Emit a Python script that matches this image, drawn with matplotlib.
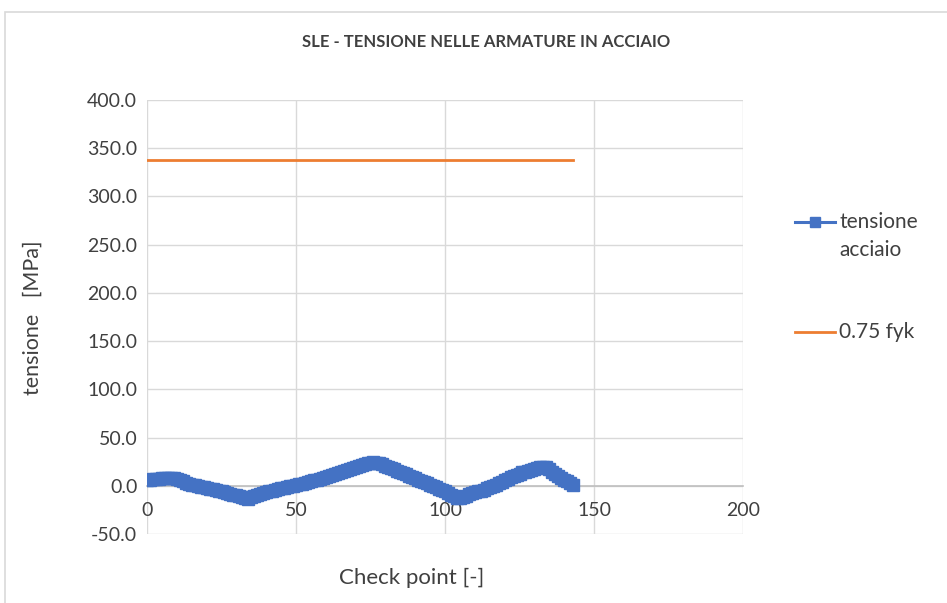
import matplotlib.pyplot as plt
from matplotlib.patches import Rectangle
from matplotlib.lines import Line2D

# check point index and steel stress [MPa]
check_points = list(range(144))
tensione_acciaio = [
    6.0, 6.3, 6.7, 7.0, 7.4, 7.8, 8.2, 8.5, 8.5, 8.2,
    7.5, 6.3, 4.5, 3.2, 2.0, 1.0, 0.3, -0.4, -1.0, -1.6,
    -2.2, -2.9, -3.6, -4.3, -5.1, -5.9, -6.7, -7.5, -8.3, -9.1,
    -9.9, -10.7, -11.6, -12.5, -13.2, -12.0, -10.8, -9.7, -8.6, -7.6,
    -6.7, -5.9, -5.1, -4.3, -3.5, -2.7, -2.0, -1.3, -0.6, 0.0,
    0.7, 1.4, 2.2, 3.0, 3.8, 4.6, 5.5, 6.4, 7.3, 8.2,
    9.1, 10.0, 11.0, 12.0, 13.0, 14.1, 15.2, 16.3, 17.5, 18.7,
    19.8, 20.9, 21.9, 22.8, 23.5, 24.0, 24.2, 24.0, 23.4, 22.3,
    21.0, 19.7, 18.4, 17.1, 15.8, 14.5, 13.1, 11.7, 10.3, 8.9,
    7.6, 6.4, 5.2, 4.0, 2.7, 1.3, -0.1, -1.5, -2.9, -4.3,
    -5.8, -7.4, -9.1, -11.0, -13.0, -12.3, -11.2, -10.1, -9.0, -7.9,
    -6.9, -5.9, -4.9, -3.9, -2.8, -1.6, -0.3, 1.1, 2.6, 4.1,
    5.6, 7.1, 8.6, 10.1, 11.5, 12.7, 13.8, 14.7, 15.5, 16.2,
    17.3, 18.4, 19.2, 19.4, 19.0, 17.5, 14.8, 12.0, 10.2, 8.5,
    6.5, 4.5, 2.5, 1.0,
]
fyk_x = [0, 143]
fyk_075 = [337.5, 337.5]

x_ticks = [0, 50, 100, 150, 200]
y_ticks = [-50, 0, 50, 100, 150, 200, 250, 300, 350, 400]

plt.rcParams["font.family"] = ["Lato", "DejaVu Sans"]
text_col = "#404040"
grid_col = "#d9d9d9"
blue = "#4472C4"
orange = "#ED7D31"

fig = plt.figure(figsize=(9.47, 6.03), dpi=100)
ax = fig.add_axes([147 / 947, 1 - 534 / 603, (743 - 147) / 947, (534 - 100) / 603])

# chart border
fig.patches.append(Rectangle((5 / 947, -0.1), 1.1, 1 - 12 / 603 + 0.1,
                             transform=fig.transFigure, fill=False,
                             edgecolor="#d9d9d9", linewidth=1.2))

for s in ["top", "right", "left"]:
    ax.spines[s].set_visible(False)
ax.spines["bottom"].set_position(("data", 0))
ax.spines["bottom"].set_color("#bfbfbf")
ax.spines["bottom"].set_linewidth(1.2)

ax.plot(check_points, tensione_acciaio, color=blue, linewidth=2.5,
        marker="s", markersize=8, zorder=3)
ax.plot(fyk_x, fyk_075, color=orange, linewidth=2, zorder=3)

ax.set_xlim(0, 200)
ax.set_ylim(-50, 400)
ax.set_xticks(x_ticks)
ax.set_yticks(y_ticks)
ax.set_xticklabels([str(t) for t in x_ticks], fontsize=14, color=text_col)
ax.set_yticklabels([f"{t:.1f}" for t in y_ticks], fontsize=14, color=text_col)
ax.grid(True, color=grid_col, linewidth=1)
ax.set_axisbelow(True)
ax.tick_params(length=0)
ax.tick_params(axis="y", pad=7)
ax.tick_params(axis="x", pad=12)

fig.text(486 / 947, 1 - 42 / 603, "SLE - TENSIONE NELLE ARMATURE IN ACCIAIO",
         ha="center", va="center", fontsize=12, fontweight="bold", color=text_col)
fig.text(412 / 947, 1 - 578 / 603, "Check point [-]", ha="center", va="center",
         fontsize=16, color=text_col)
fig.text(33 / 947, 1 - 318 / 603, "tensione   [MPa]", ha="center", va="center",
         rotation=90, fontsize=15.5, color=text_col)

# legend
fig.add_artist(Line2D([795 / 947, 835 / 947], [1 - 222 / 603] * 2, color=blue,
                      linewidth=2.2, transform=fig.transFigure))
fig.add_artist(Line2D([815 / 947], [1 - 222 / 603], color=blue, marker="s",
                      markersize=7, transform=fig.transFigure))
fig.text(839 / 947, 1 - 222 / 603, "tensione", ha="left", va="center",
         fontsize=15, color=text_col)
fig.text(839 / 947, 1 - 250 / 603, "acciaio", ha="left", va="center",
         fontsize=15, color=text_col)
fig.add_artist(Line2D([795 / 947, 835 / 947], [1 - 332 / 603] * 2, color=orange,
                      linewidth=2, transform=fig.transFigure))
fig.text(839 / 947, 1 - 332 / 603, "0.75 fyk", ha="left", va="center",
         fontsize=15, color=text_col)

fig.savefig("out.png", dpi=100)
